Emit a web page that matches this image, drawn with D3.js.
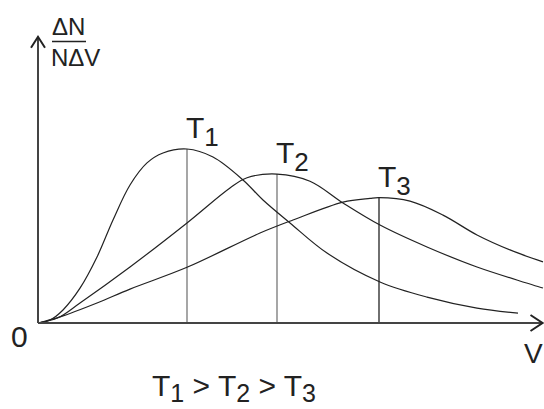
<!DOCTYPE html>
<html>
<head>
<meta charset="utf-8">
<script src="https://cdn.jsdelivr.net/npm/d3@7"></script>
<style>
    body { margin: 0; background: #fff; }
    text { font-family: "Liberation Sans", Arial, sans-serif; fill: #222; }
</style>
</head>
<body>
<svg id="chart" width="544" height="409"></svg>
<script>

// speed V (arbitrary units) and dN/(N dV)
let t1V = [0, 0.24, 0.5, 0.84, 1.18, 1.5, 1.84, 2.18, 2.5, 2.98, 3.5, 4.1, 4.5, 5.04, 5.78, 6.84, 7.78, 8.78, 9.6];
let t1N = [0, 0.017, 0.075, 0.2, 0.379, 0.592, 0.793, 0.92, 0.977, 1.0, 0.954, 0.822, 0.707, 0.575, 0.402, 0.236, 0.149, 0.086, 0.057];

let t2V = [0, 0.4, 0.84, 1.84, 2.98, 3.84, 4.18, 4.78, 5.44, 6.1, 6.84, 7.78, 8.78, 10.1];
let t2N = [0, 0.03, 0.115, 0.322, 0.575, 0.776, 0.835, 0.856, 0.815, 0.69, 0.563, 0.437, 0.322, 0.201];

let t3V = [0, 0.44, 1.18, 1.84, 2.98, 4.44, 5.1, 6.1, 6.64, 6.82, 7.44, 8.1, 8.78, 9.44, 10.1];
let t3N = [0, 0.035, 0.115, 0.195, 0.32, 0.517, 0.592, 0.695, 0.716, 0.72, 0.7, 0.62, 0.506, 0.42, 0.351];

let curveNames = ["1", "2", "3"];
let peakV = [2.98, 4.78, 6.82];
let peakN = [1.0, 0.856, 0.72];
let dropColors = ["#777", "#777", "#222"];

let axisMaxV = 10.09;
let axisMaxN = 1.645;

let svg = d3.select("#chart");

let x = d3.scaleLinear().domain([0, 10]).range([38, 538]);
let y = d3.scaleLinear().domain([0, 1]).range([323, 149]);

let line = d3.line()
    .x(d => x(d[0]))
    .y(d => y(d[1]))
    .curve(d3.curveCatmullRom.alpha(0.5));

let series = [d3.zip(t1V, t1N), d3.zip(t2V, t2N), d3.zip(t3V, t3N)];

// drop lines from each peak
svg.append("g")
    .selectAll("line")
    .data(peakV)
    .enter()
    .append("line")
    .attr("x1", d => x(d))
    .attr("x2", d => x(d))
    .attr("y1", y(0))
    .attr("y2", (d, i) => y(peakN[i]))
    .attr("stroke", (d, i) => dropColors[i])
    .attr("stroke-width", 1.3);

svg.append("g")
    .selectAll("path")
    .data(series)
    .enter()
    .append("path")
    .attr("d", line)
    .attr("fill", "none")
    .attr("stroke", "#222")
    .attr("stroke-width", 1.2);

// axes with arrow heads
let axes = svg.append("g")
    .attr("stroke", "#444")
    .attr("stroke-width", 2)
    .attr("fill", "none");

axes.append("path")
    .attr("d", `M${x(0)},${y(0)} V${y(axisMaxN)}`);
axes.append("path")
    .attr("d", `M${x(0) - 7},${y(axisMaxN) + 11} L${x(0)},${y(axisMaxN)} L${x(0) + 7},${y(axisMaxN) + 11}`)
    .attr("stroke", "#222");

axes.append("path")
    .attr("d", `M${x(0)},${y(0)} H${x(axisMaxV)}`);
axes.append("path")
    .attr("d", `M${x(axisMaxV) - 12},${y(0) - 8} L${x(axisMaxV)},${y(0)} L${x(axisMaxV) - 12},${y(0) + 8}`)
    .attr("stroke", "#222");

// temperature labels above the peaks
let labels = svg.append("g")
    .selectAll("text")
    .data(curveNames)
    .enter()
    .append("text")
    .attr("x", (d, i) => x(peakV[i]) - 1)
    .attr("y", (d, i) => y(peakN[i]) - 11)
    .style("font-size", "30px");
labels.append("tspan").text("T");
labels.append("tspan")
    .attr("dy", 8)
    .style("font-size", "26px")
    .text(d => d);

// axis labels
svg.append("text")
    .attr("x", 11)
    .attr("y", 347)
    .style("font-size", "30px")
    .text("0");

svg.append("text")
    .attr("x", 524)
    .attr("y", 363)
    .style("font-size", "28px")
    .text("V");

svg.append("text")
    .attr("x", 52)
    .attr("y", 35)
    .style("font-size", "24px")
    .text("\u0394N");
svg.append("line")
    .attr("x1", 52)
    .attr("x2", 86)
    .attr("y1", 41.5)
    .attr("y2", 41.5)
    .attr("stroke", "#222")
    .attr("stroke-width", 1.6);
svg.append("text")
    .attr("x", 51)
    .attr("y", 66)
    .style("font-size", "24px")
    .text("N\u0394V");

// ordering of the temperatures
let order = svg.append("text")
    .attr("x", 152)
    .attr("y", 396)
    .style("font-size", "30px");
curveNames.forEach((n, i) => {
    order.append("tspan").attr("dy", i == 0 ? 0 : -6).text(i == 0 ? "T" : " > T");
    order.append("tspan").attr("dy", 6).style("font-size", "25px").text(n);
});

</script>
</body>
</html>
